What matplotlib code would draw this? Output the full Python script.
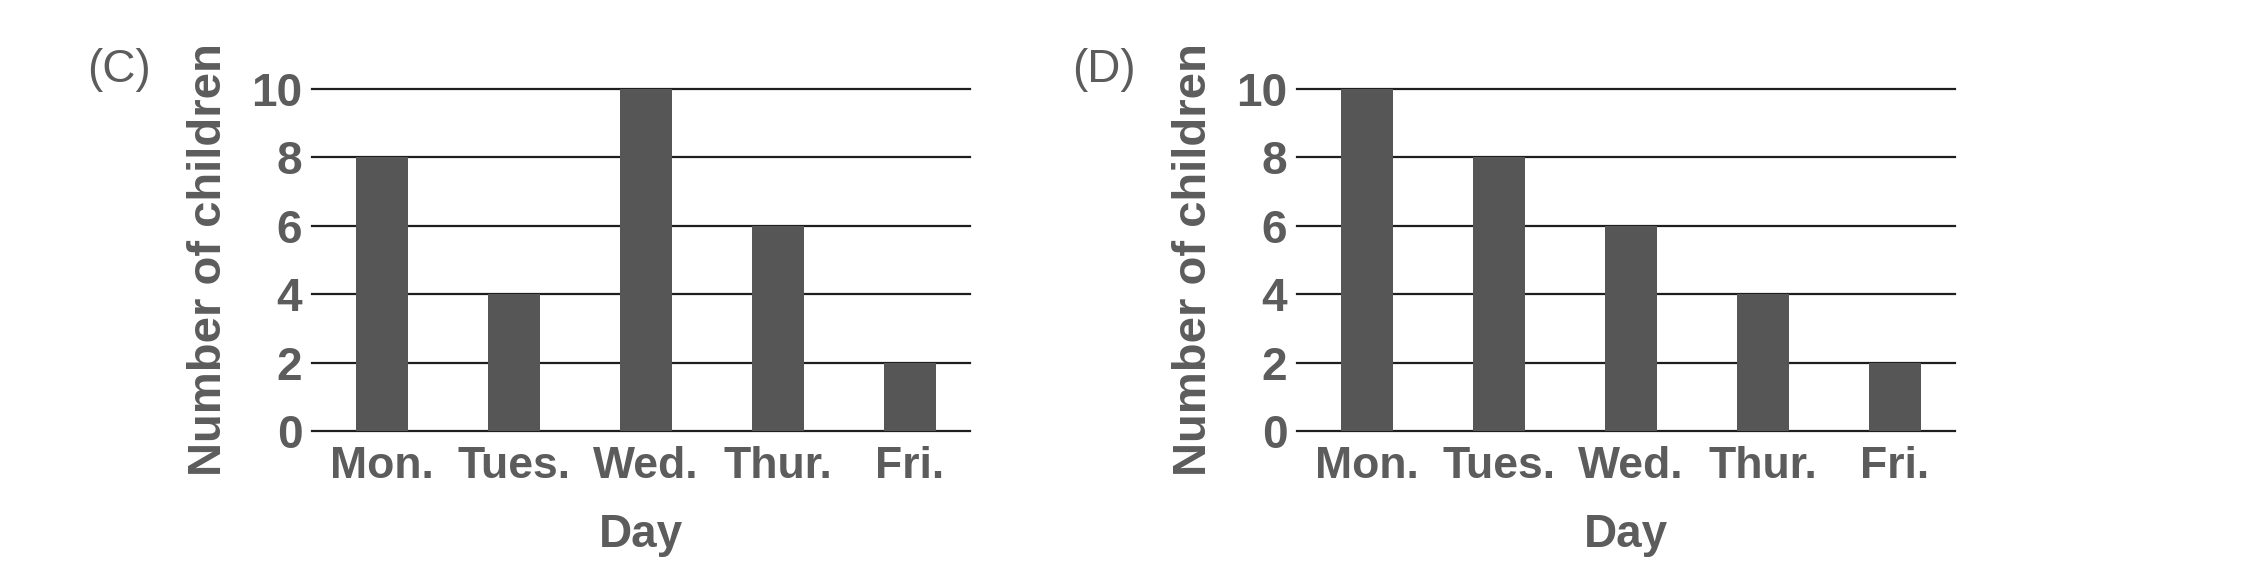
import matplotlib
matplotlib.use("Agg")
import matplotlib.pyplot as plt

days = ["Mon.", "Tues.", "Wed.", "Thur.", "Fri."]
values_c = [8, 4, 10, 6, 2]
values_d = [10, 8, 6, 4, 2]
yticks = [0, 2, 4, 6, 8, 10]
panel_labels = ["(C)", "(D)"]
ylabel_text = "Number of children"
xlabel_text = "Day"

plt.rcParams['font.family'] = ['Liberation Sans', 'DejaVu Sans']

W, H = 2245, 578
fig = plt.figure(figsize=(W / 100, H / 100), dpi=100)
fig.patch.set_facecolor("white")

text_color = "#5c5c5c"
bar_color = "#565656"
grid_color = "#1e1e1e"

axes_px = [(312, 970), (1297, 1955)]
y_top, y_bot = 89, 431

for (x0, x1), vals, plabel in zip(axes_px, [values_c, values_d], panel_labels):
    ax = fig.add_axes([x0 / W, 1 - y_bot / H, (x1 - x0) / W, (y_bot - y_top) / H])
    xs = list(range(len(days)))
    ax.bar(xs, vals, width=0.40, color=bar_color, zorder=3)
    ax.set_xlim(-0.53, 4.455)
    ax.set_ylim(0, 10)
    ax.set_yticks(yticks)
    ax.set_yticklabels([str(t) for t in yticks])
    ax.set_xticks(xs)
    ax.set_xticklabels(days)
    for s in ax.spines.values():
        s.set_visible(False)
    for t in yticks:
        ax.axhline(t, color=grid_color, lw=1.6, zorder=1, clip_on=False)
    ax.tick_params(axis='both', length=0, colors=text_color)
    ax.tick_params(axis='y', pad=7, labelsize=33)
    ax.tick_params(axis='x', pad=11, labelsize=32)
    for lab in ax.get_xticklabels() + ax.get_yticklabels():
        lab.set_fontweight('bold')
    # y label
    ax.text(-103 / (x1 - x0), 0.5, ylabel_text, transform=ax.transAxes,
            rotation=90, ha='center', va='center', fontsize=34, fontweight='bold',
            color=text_color)
    # x label
    ax.text(0.5, -(535 - y_bot) / (y_bot - y_top), xlabel_text, transform=ax.transAxes,
            ha='center', va='center', fontsize=33, fontweight='bold', color=text_color)
    # panel label
    ax.text(-193 / (x1 - x0), 1 + (y_top - 70) / (y_bot - y_top), plabel,
            transform=ax.transAxes, ha='center', va='center', fontsize=33,
            color=text_color)

fig.savefig("out.png", dpi=100, facecolor="white")
